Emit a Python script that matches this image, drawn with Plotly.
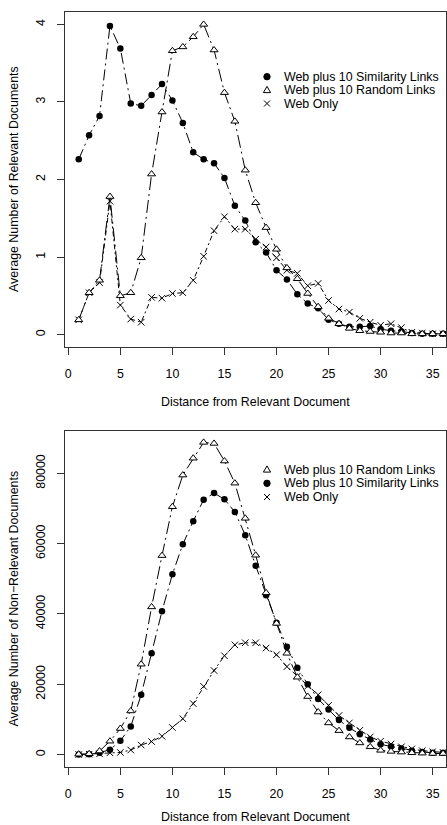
import plotly.graph_objects as go

# ---------------- data ----------------
distance = list(range(1, 37))

# Top chart: average number of relevant documents
rel_similarity = [2.26, 2.57, 2.82, 3.98, 3.69, 2.98, 2.95, 3.09, 3.23, 3.02, 2.73, 2.35,
                  2.26, 2.21, 2.02, 1.66, 1.47, 1.19, 1.06, 0.83, 0.71, 0.52, 0.40, 0.34,
                  0.19, 0.14, 0.10, 0.10, 0.11, 0.07, 0.05, 0.04, 0.02, 0.01, 0.01, 0.01]
rel_random = [0.19, 0.54, 0.70, 1.78, 0.50, 0.54, 0.99, 2.07, 2.87, 3.66, 3.71, 3.84,
              4.00, 3.67, 3.12, 2.75, 2.12, 1.70, 1.38, 1.10, 0.86, 0.72, 0.53, 0.36,
              0.21, 0.14, 0.08, 0.05, 0.04, 0.03, 0.02, 0.02, 0.01, 0.01, 0.01, 0.01]
rel_web = [0.19, 0.54, 0.67, 1.72, 0.38, 0.20, 0.16, 0.48, 0.47, 0.53, 0.54, 0.70,
           1.01, 1.34, 1.52, 1.36, 1.36, 1.23, 1.13, 0.99, 0.83, 0.79, 0.63, 0.66,
           0.44, 0.33, 0.29, 0.21, 0.16, 0.12, 0.14, 0.09, 0.03, 0.02, 0.01, 0.01]

# Bottom chart: average number of non-relevant documents
non_random = [100, 200, 1000, 3800, 7400, 12400, 25700, 42000, 56600, 70500, 79500, 84300,
              88800, 88500, 83500, 77200, 67200, 56700, 46000, 37300, 28800, 22000, 16500, 12100,
              9000, 6800, 5000, 3300, 2200, 1200, 900, 700, 500, 400, 300, 300]
non_similarity = [0, 100, 500, 1400, 3900, 8000, 17000, 28800, 40800, 51300, 59800, 66400,
                  72500, 74400, 72600, 69000, 62400, 53700, 45300, 37500, 30700, 24700, 20000, 15800,
                  12800, 9800, 7600, 5800, 4300, 2900, 2300, 1700, 1100, 700, 500, 500]
non_web = [0, 100, 200, 500, 600, 1300, 2700, 3700, 5200, 7700, 10200, 14500,
           19400, 23900, 28100, 31200, 31800, 31800, 30300, 28400, 25000, 22300, 19500, 17000,
           14000, 11100, 9000, 6900, 5000, 3800, 3000, 2200, 1600, 1100, 800, 600]

x_ticks = [0, 5, 10, 15, 20, 25, 30, 35]
top_y_ticks = [0, 1, 2, 3, 4]
bottom_y_ticks = [0, 20000, 40000, 60000, 80000]

name_sim = "Web plus 10 Similarity Links"
name_rand = "Web plus 10 Random Links"
name_web = "Web Only"
x_title = "Distance from Relevant Document"
top_y_title = "Average Number of Relevant Documents"
bottom_y_title = "Average Number of Non\u2212Relevant Documents"

# ---------------- layout geometry ----------------
W, H = 447, 825
ML, MR, MT, MB = 65, 1, 12, 58
PW, PH = W - ML - MR, H - MT - MB
FONT = "Liberation Sans, Arial, Helvetica, sans-serif"
FS = 12.4


def px_x(px):
    return (px - ML) / PW


def px_y(py):
    return (H - MB - py) / PH


top_dom = [px_y(347), 1.0]
bot_dom = [0.0, px_y(431)]

styles = {
    name_sim: dict(marker=dict(symbol="circle", size=6.5, color="black"),
                   line=dict(color="black", width=1, dash="11px,4px,2px,4px")),
    name_rand: dict(marker=dict(symbol="triangle-up", size=7, color="white",
                                line=dict(color="black", width=1)),
                    line=dict(color="black", width=1, dash="13px,4px,2px,4px")),
    name_web: dict(marker=dict(symbol="x-thin-open", size=6.5, color="black",
                               line=dict(color="black", width=1)),
                   line=dict(color="black", width=1, dash="5px,3px,2px,3px")),
}

fig = go.Figure()


def add_series(name, ys, xa, ya):
    st = styles[name]
    fig.add_trace(go.Scatter(x=distance, y=ys, mode="lines+markers", name=name,
                             marker=st["marker"], line=st["line"],
                             xaxis=xa, yaxis=ya, showlegend=False,
                             cliponaxis=False))


add_series(name_sim, rel_similarity, "x", "y")
add_series(name_web, rel_web, "x", "y")
add_series(name_rand, rel_random, "x", "y")

add_series(name_sim, non_similarity, "x2", "y2")
add_series(name_web, non_web, "x2", "y2")
add_series(name_rand, non_random, "x2", "y2")

axis_common = dict(showline=True, mirror=True, linecolor="#333333", linewidth=1,
                   ticks="outside", ticklen=7, tickwidth=1, tickcolor="#333333",
                   showgrid=False, zeroline=False,
                   tickfont=dict(family=FONT, size=FS, color="black"))

fig.update_layout(
    width=W, height=H,
    margin=dict(l=ML, r=MR, t=MT, b=MB, pad=0),
    paper_bgcolor="white", plot_bgcolor="white",
    showlegend=False,
    xaxis=dict(domain=[0, 1], anchor="y", range=[-0.317, 36.28], tickvals=x_ticks,
               ticklabelstandoff=8, **axis_common),
    yaxis=dict(domain=top_dom, anchor="x", range=[-0.16, 4.16], tickvals=top_y_ticks,
               tickangle=-90, ticklabelstandoff=7, **axis_common),
    xaxis2=dict(domain=[0, 1], anchor="y2", range=[-0.317, 36.28], tickvals=x_ticks,
                ticklabelstandoff=8, **axis_common),
    yaxis2=dict(domain=bot_dom, anchor="x2", range=[-3540, 92040], tickvals=bottom_y_ticks,
                tickformat="d", tickangle=-90, ticklabelstandoff=7, **axis_common),
)

# axis titles
annots = []
for py in (401.7, 817.5):
    annots.append(dict(text=x_title, xref="paper", yref="paper", x=px_x(255.5), y=px_y(py),
                       xanchor="center", yanchor="middle", showarrow=False,
                       font=dict(family=FONT, size=FS, color="black")))
for txt, py in ((top_y_title, 179.5), (bottom_y_title, 599)):
    annots.append(dict(text=txt, xref="paper", yref="paper", x=px_x(13.5), y=px_y(py),
                       xanchor="center", yanchor="middle", showarrow=False, textangle=-90,
                       font=dict(family=FONT, size=FS, color="black")))

# legends (symbol shapes + text)
shapes = []


def legend_entry(name, py):
    sx, sy = px_x(267), px_y(py)
    base = dict(xref="paper", yref="paper", xsizemode="pixel", ysizemode="pixel",
                xanchor=sx, yanchor=sy, line=dict(color="black", width=1))
    if name == name_sim:
        shapes.append(dict(type="circle", x0=-3.2, x1=3.2, y0=-3.2, y1=3.2,
                           fillcolor="black", **base))
    elif name == name_rand:
        shapes.append(dict(type="path", path="M -3.6,-2.6 L 3.6,-2.6 L 0,3.6 Z",
                           fillcolor="white", **base))
    else:
        shapes.append(dict(type="path", path="M -3,-3 L 3,3 M -3,3 L 3,-3", **base))
    annots.append(dict(text=name, xref="paper", yref="paper", x=px_x(281.5), y=sy,
                       xanchor="left", yanchor="middle", showarrow=False,
                       font=dict(family=FONT, size=FS, color="black")))


for name, py in ((name_sim, 76.7), (name_rand, 90.0), (name_web, 103.5)):
    legend_entry(name, py)
for name, py in ((name_rand, 469.5), (name_sim, 483.3), (name_web, 497.0)):
    legend_entry(name, py)

fig.update_layout(annotations=annots, shapes=shapes)

fig.write_html("out.html",
               config={"displayModeBar": False},
               post_script="document.body.style.margin='0';"
                           "document.body.style.padding='0';"
                           "document.documentElement.style.overflow='hidden';"
                           "document.body.style.overflow='hidden';")
